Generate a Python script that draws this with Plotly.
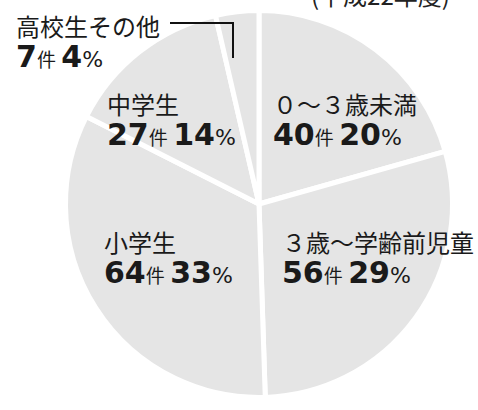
import plotly.graph_objects as go

categories = ["０～３歳未満", "３歳～学齢前児童", "小学生", "中学生", "高校生その他"]
counts = [40, 56, 64, 27, 7]
percents = [20, 29, 33, 14, 4]
title_text = "(平成22年度)"

W, H = 478, 410
CX, CY, R = 259, 204, 193.5  # pixel center/radius of pie (from top-left)

fig = go.Figure(go.Pie(
    values=counts,
    labels=categories,
    sort=False,
    direction="clockwise",
    rotation=0,
    textinfo="none",
    hoverinfo="skip",
    showlegend=False,
    marker=dict(colors=["#e5e5e5"] * len(counts), line=dict(color="white", width=5)),
    domain=dict(x=[(CX - R) / W, (CX + R) / W], y=[(H - CY - R) / H, (H - CY + R) / H]),
))

def px(x):
    return x / W

def py(y):
    return 1 - y / H

# label positions (left x, center y of the two-line block) in pixels
label_pos = [
    (271, 119),
    (280, 257),
    (102, 257),
    (105, 119),
    (14, 41),
]

annotations = []
for (name, c, p), (lx, yc) in zip(zip(categories, counts, percents), label_pos):
    text = (f"{name}<br>"
            f"<span style='font-family:DejaVu Sans;font-size:30px'><b>{c}</b></span>"
            f"<span style='font-size:19px'>件</span>&nbsp;"
            f"<span style='font-family:DejaVu Sans;font-size:30px'><b>{p}</b></span>"
            f"<span style='font-family:DejaVu Sans;font-size:22px'>%</span>")
    annotations.append(dict(
        x=px(lx), y=py(yc), xref="paper", yref="paper", xanchor="left", yanchor="middle",
        align="left", text=text, showarrow=False,
        font=dict(family="Noto Sans CJK JP", size=24, color="#1a1a1a"),
    ))

annotations.append(dict(
    x=px(452), y=py(-5), xref="paper", yref="paper", xanchor="right", yanchor="middle",
    text=title_text, showarrow=False,
    font=dict(family="Noto Sans CJK JP", size=24, color="#222"),
))

fig.update_layout(
    width=W, height=H,
    margin=dict(l=0, r=0, t=0, b=0),
    paper_bgcolor="white", plot_bgcolor="white",
    annotations=annotations,
    shapes=[dict(
        type="path", xref="paper", yref="paper",
        path=f"M {px(170)} {py(23)} L {px(233)} {py(23)} L {px(233)} {py(58)}",
        line=dict(color="#111", width=2),
    )],
)

fig.write_html(
    "out.html",
    config={"displayModeBar": False},
    post_script="document.body.style.margin='0';document.body.style.overflow='hidden';",
)
